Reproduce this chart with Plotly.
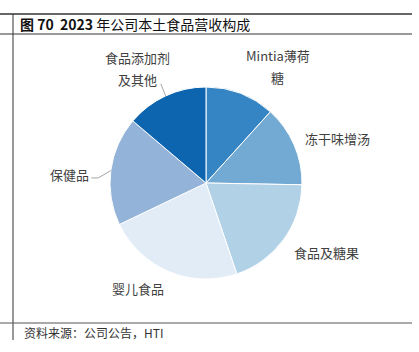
import math
import plotly.graph_objects as go

# ---- data ----
categories = ["Mintia薄荷糖", "冻干味增汤", "食品及糖果", "婴儿食品", "保健品", "食品添加剂及其他"]
values = [11.7, 13.6, 19.5, 23.1, 18.3, 13.8]
label_lines = [["Mintia薄荷", "糖"], ["冻干味增汤"], ["食品及糖果"], ["婴儿食品"], ["保健品"], ["食品添加剂", "及其他"]]
colors = ["#3585C4", "#72AAD3", "#B1D1E7", "#E1ECF6", "#94B3D8", "#0C65AE"]

W, H = 419, 352
CX, CY, R = 206, 183, 96  # pie centre / radius in px
LINE_GAP = 22             # px between lines of a wrapped label

def px(x):
    return x / W

def py(y):
    return 1 - y / H

fig = go.Figure(go.Pie(
    labels=categories,
    values=values,
    sort=False,
    direction="clockwise",
    rotation=0,
    marker=dict(colors=colors, line=dict(color="white", width=1)),
    textinfo="none",
    hoverinfo="label+percent",
    showlegend=False,
    domain=dict(x=[px(CX - R), px(CX + R)], y=[py(CY + R), py(CY - R)]),
))

# label placement: (distance from centre px, angle nudge deg) per label
label_place = [(137, 10.6), (138.5, 4.5), (139, -6), (126, 10), (137, -4), (133, -6)]
leader = [False, False, False, False, True, True]

total = sum(values)
cum = 0
annotations = []
shapes = []
font = dict(family="Noto Sans CJK SC", size=13, color="#404040")
for i, v in enumerate(values):
    mid = (cum + v / 2) / total * 360
    cum += v
    dist, nudge = label_place[i]
    a = math.radians(mid + nudge)
    lx = CX + dist * math.sin(a)
    ly = CY - dist * math.cos(a)
    lines = label_lines[i]
    n = len(lines)
    for k, t in enumerate(lines):
        yk = ly + (k - (n - 1) / 2) * LINE_GAP
        annotations.append(dict(x=px(lx), y=py(yk), xref="paper", yref="paper",
                                text=t, showarrow=False, font=font,
                                xanchor="center", yanchor="middle", align="center"))
    if leader[i]:
        am = math.radians(mid)
        ex = CX + R * math.sin(am)
        ey = CY - R * math.cos(am)
        if i == 4:
            path = f"M {px(lx + 22)} {py(ly + 3)} L {px(lx + 29)} {py(ly + 3)} L {px(ex)} {py(ey)}"
        else:
            path = f"M {px(lx + 23)} {py(ly + 15)} L {px(ex)} {py(ey)}"
        shapes.append(dict(type="path", xref="paper", yref="paper", path=path,
                           line=dict(color="#A6A6A6", width=1)))

# frame lines
shapes += [
    dict(type="line", xref="paper", yref="paper", x0=0, x1=px(412), y0=py(14), y1=py(14),
         line=dict(color="#333333", width=1.5)),
    dict(type="line", xref="paper", yref="paper", x0=0, x1=px(412), y0=py(34), y1=py(34),
         line=dict(color="#9A9A9A", width=2)),
    dict(type="line", xref="paper", yref="paper", x0=px(13), x1=px(13), y0=py(14), y1=py(340),
         line=dict(color="#333333", width=1)),
    dict(type="line", xref="paper", yref="paper", x0=0, x1=px(412), y0=py(323), y1=py(323),
         line=dict(color="#555555", width=1)),
]

annotations += [
    dict(x=px(18), y=py(23.5), xref="paper", yref="paper", xanchor="left", yanchor="middle",
         showarrow=False, text="<b>图 70\u00a0\u00a02023</b> 年公司本土食品营收构成",
         font=dict(family="Noto Sans CJK SC", size=14, color="#111111")),
    dict(x=px(22), y=py(332), xref="paper", yref="paper", xanchor="left", yanchor="middle",
         showarrow=False, text="资料来源：公司公告，HTI",
         font=dict(family="Noto Sans CJK SC", size=12, color="#333333")),
]

fig.update_layout(
    width=W, height=H,
    margin=dict(l=0, r=0, t=0, b=0),
    paper_bgcolor="white", plot_bgcolor="white",
    annotations=annotations, shapes=shapes,
)

fig.write_html("out.html")
